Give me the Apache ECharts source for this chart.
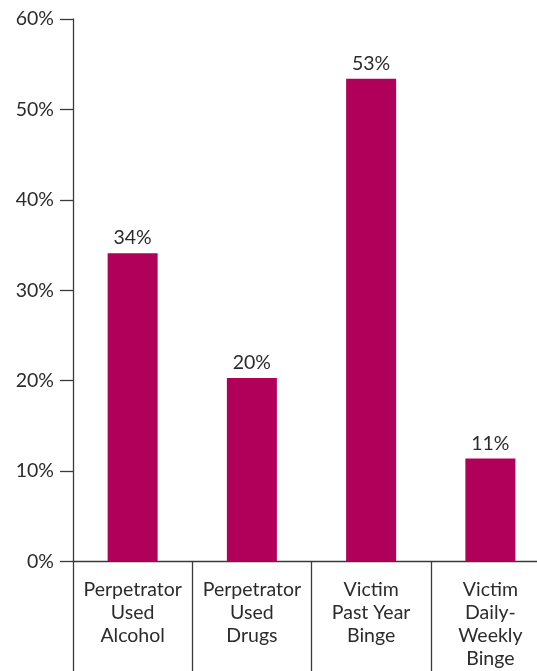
<!DOCTYPE html>
<html>
<head>
<meta charset="utf-8">
<script src="https://cdn.jsdelivr.net/npm/echarts@6/dist/echarts.min.js"></script>
<style>
  html, body { margin: 0; padding: 0; background: #fff; }
  #chart { width: 537px; height: 671px; }
</style>
</head>
<body>
<div id="chart"></div>
<script>
// categories and values
const categories = [
  'Perpetrator\nUsed\nAlcohol',
  'Perpetrator\nUsed\nDrugs',
  'Victim\nPast Year\nBinge',
  'Victim\nDaily-\nWeekly\nBinge'
]
const values = [34.1, 20.3, 53.4, 11.4]
const yTicks = [0, 10, 20, 30, 40, 50, 60]

const textColor = '#2b2b2b'
const lineColor = '#3a3a3a'
const font = 'Lato, "Open Sans", sans-serif'
const fontSize = 19.5

const myChart = echarts.init(document.getElementById('chart'))
const option = {
  animation: false,
  textStyle: { fontFamily: font },
  grid: { left: 73, top: 19, width: 477, bottom: 109.5, containLabel: false, outerBoundsMode: 'none' },
  xAxis: {
    type: 'category',
    data: categories,
    axisLine: { show: true, lineStyle: { color: lineColor, width: 1.3 } },
    axisTick: { show: true, interval: 0, length: 112, lineStyle: { color: lineColor, width: 1.3 } },
    axisLabel: {
      interval: 0,
      margin: 17,
      color: textColor,
      fontSize: fontSize,
      lineHeight: 23,
      fontFamily: font
    }
  },
  yAxis: {
    type: 'value',
    min: yTicks[0],
    max: yTicks[yTicks.length - 1],
    interval: 10,
    splitLine: { show: false },
    axisLine: { show: true, lineStyle: { color: lineColor, width: 1.3 } },
    axisTick: { show: true, length: 13, lineStyle: { color: lineColor, width: 1.3 } },
    axisLabel: {
      formatter: '{value}%',
      margin: 19,
      color: textColor,
      fontSize: fontSize,
      fontFamily: font
    }
  },
  series: [{
    type: 'bar',
    data: values,
    barWidth: 50,
    itemStyle: { color: '#b1005a' },
    label: {
      show: true,
      position: 'top',
      distance: 5,
      color: textColor,
      fontSize: fontSize,
      fontFamily: font,
      formatter: (p) => Math.round(p.value) + '%'
    }
  }]
}
myChart.setOption(option)
</script>
</body>
</html>
